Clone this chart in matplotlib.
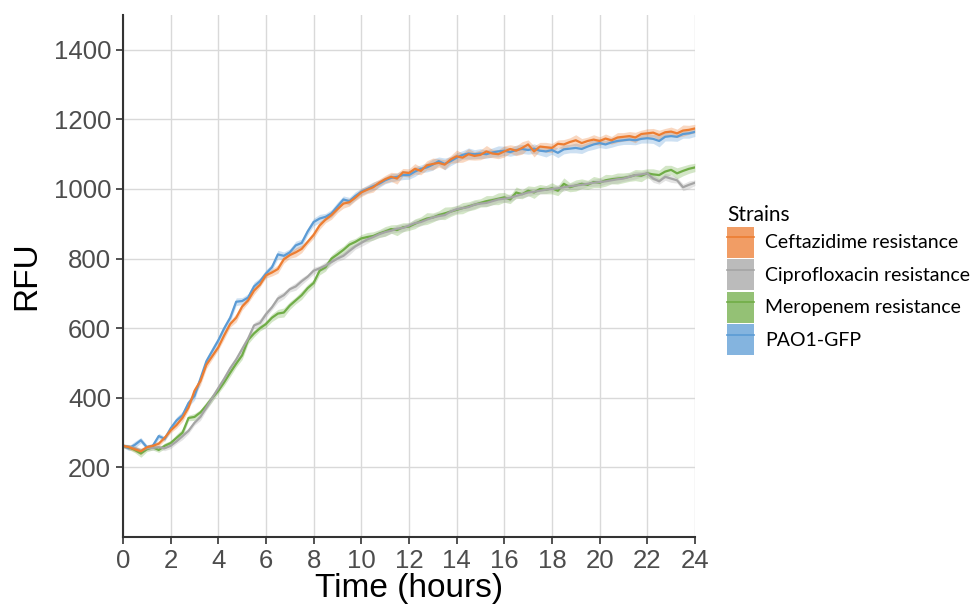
import numpy as np
import matplotlib
matplotlib.use("Agg")
import matplotlib.pyplot as plt
from matplotlib.patches import Patch
from matplotlib.lines import Line2D

# time points every 15 min
horas = np.arange(0, 24.01, 0.25)

ceftazidime = [262, 258, 252, 246, 258, 262, 268, 285,
               306, 322, 343, 372, 420, 448, 495, 520,
               545, 580, 612, 630, 662, 680, 708, 725,
               752, 760, 770, 798, 810, 818, 828, 848,
               868, 895, 912, 925, 942, 958, 962, 975,
               990, 998, 1005, 1018, 1028, 1035, 1030, 1048,
               1046, 1058, 1052, 1068, 1072, 1075, 1070, 1085,
               1094, 1090, 1100, 1095, 1098, 1108, 1102, 1100,
               1108, 1115, 1110, 1118, 1128, 1108, 1122, 1120,
               1118, 1130, 1128, 1135, 1140, 1132, 1138, 1142,
               1138, 1145, 1140, 1148, 1150, 1152, 1148, 1158,
               1160, 1162, 1155, 1163, 1165, 1160, 1168, 1170,
               1174]

ciprofloxacin = [262, 260, 255, 248, 255, 256, 258, 255,
                 262, 275, 290, 305, 328, 345, 372, 400,
                 428, 455, 485, 510, 540, 570, 608, 615,
                 640, 660, 685, 695, 712, 720, 735, 748,
                 765, 772, 780, 790, 800, 808, 822, 835,
                 845, 855, 862, 870, 876, 880, 886, 888,
                 895, 902, 905, 912, 918, 922, 925, 935,
                 942, 945, 948, 955, 958, 960, 965, 970,
                 972, 975, 980, 985, 990, 992, 995, 998,
                 1000, 1002, 1005, 1008, 1010, 1012, 1015, 1018,
                 1020, 1022, 1025, 1028, 1030, 1035, 1040, 1042,
                 1045, 1030, 1022, 1035, 1030, 1025, 1005, 1012,
                 1018]

meropenem = [262, 258, 250, 240, 252, 258, 250, 262,
             270, 285, 300, 342, 345, 358, 378, 400,
             420, 445, 472, 498, 522, 566, 585, 600,
             612, 630, 642, 645, 665, 680, 695, 715,
             730, 765, 775, 800, 812, 825, 840, 848,
             858, 862, 865, 872, 878, 885, 882, 890,
             892, 900, 908, 915, 918, 925, 930, 935,
             940, 945, 950, 955, 960, 965, 968, 972,
             976, 970, 990, 985, 995, 990, 1000, 998,
             1002, 995, 1015, 1005, 1010, 1015, 1012, 1020,
             1018, 1025, 1028, 1030, 1032, 1035, 1040, 1038,
             1045, 1042, 1040, 1050, 1055, 1045, 1052, 1058,
             1062]

pao1 = [262, 255, 265, 278, 258, 262, 290, 282,
        312, 335, 350, 385, 405, 455, 505, 535,
        565, 600, 630, 676, 678, 688, 720, 735,
        757, 775, 812, 808, 818, 838, 845, 878,
        905, 915, 920, 930, 950, 970, 965, 980,
        992, 1000, 1008, 1015, 1025, 1032, 1035, 1040,
        1040, 1050, 1058, 1062, 1070, 1080, 1072, 1080,
        1090, 1098, 1102, 1100, 1102, 1100, 1105, 1108,
        1110, 1106, 1112, 1115, 1112, 1116, 1110, 1108,
        1112, 1104, 1114, 1116, 1118, 1115, 1122, 1128,
        1132, 1128, 1134, 1138, 1140, 1142, 1140, 1144,
        1146, 1144, 1138, 1150, 1152, 1150, 1158, 1160,
        1164]

# erro padrao (faixa sombreada)
se_ceft = [5, 6, 7, 9, 6, 7, 8, 7,
           7, 9, 11, 8, 10, 12, 11, 9,
           8, 11, 9, 12, 10, 8, 11, 7,
           8, 10, 12, 11, 9, 13, 11, 8,
           10, 11, 9, 12, 10, 13, 11, 9,
           12, 11, 14, 10, 11, 13, 16, 11,
           12, 15, 11, 13, 17, 12, 14, 11,
           18, 13, 16, 12, 14, 17, 12, 13,
           16, 12, 14, 18, 13, 16, 12, 14,
           13, 11, 14, 12, 16, 13, 11, 14,
           12, 13, 11, 14, 12, 13, 15, 11,
           13, 12, 14, 11, 13, 12, 16, 13,
           12]

se_cipro = [5, 6, 8, 7, 6, 7, 6, 7,
            8, 7, 10, 8, 7, 10, 8, 11,
            8, 10, 7, 8, 11, 10, 8, 12,
            10, 8, 11, 10, 8, 11, 10, 8,
            10, 8, 11, 10, 8, 10, 11, 8,
            10, 11, 8, 10, 11, 8, 10, 11,
            8, 10, 11, 8, 10, 11, 8, 10,
            11, 8, 10, 11, 8, 10, 11, 8,
            10, 11, 8, 10, 11, 8, 10, 11,
            8, 10, 11, 8, 10, 11, 8, 10,
            11, 8, 10, 11, 8, 10, 11, 8,
            10, 11, 8, 10, 11, 8, 10, 11,
            8]

se_mero = [5, 7, 8, 11, 7, 8, 7, 8,
           7, 10, 11, 8, 10, 8, 11, 10,
           8, 10, 11, 10, 12, 11, 10, 8,
           10, 11, 12, 13, 11, 10, 12, 11,
           10, 12, 11, 10, 13, 11, 12, 10,
           11, 13, 12, 11, 14, 12, 16, 13,
           11, 14, 12, 17, 13, 12, 18, 14,
           12, 16, 13, 14, 12, 16, 13, 17,
           14, 12, 16, 13, 14, 17, 13, 12,
           16, 14, 17, 13, 16, 14, 13, 16,
           14, 17, 13, 16, 14, 13, 16, 17,
           13, 16, 14, 18, 13, 16, 14, 13,
           12]

se_pao1 = [5, 7, 10, 8, 7, 6, 8, 7,
           8, 10, 11, 10, 12, 11, 10, 12,
           11, 10, 12, 11, 10, 11, 12, 10,
           11, 10, 12, 11, 10, 12, 11, 10,
           11, 12, 10, 11, 12, 10, 11, 12,
           10, 11, 12, 11, 10, 12, 11, 13,
           12, 14, 11, 13, 16, 12, 17, 13,
           14, 12, 16, 13, 14, 12, 13, 16,
           13, 12, 14, 13, 12, 14, 13, 16,
           12, 14, 13, 12, 14, 13, 12, 14,
           13, 12, 14, 13, 12, 14, 13, 12,
           14, 13, 17, 12, 14, 13, 12, 14,
           13]

nomes = ['Ceftazidime resistance', 'Ciprofloxacin resistance',
         'Meropenem resistance', 'PAO1-GFP']
cores = ['#ED7D31', '#A5A5A5', '#70AD47', '#5B9BD5']
series = [ceftazidime, ciprofloxacin, meropenem, pao1]
erros = [se_ceft, se_cipro, se_mero, se_pao1]

plt.rcParams['font.family'] = ['Liberation Sans', 'DejaVu Sans']

fig = plt.figure(figsize=(9.76, 6.10), dpi=100)
ax = fig.add_axes([0.126, 0.1197, 0.586, 0.8557])

# desenha na ordem inversa para o laranja ficar por cima
for nome, cor, y, se in reversed(list(zip(nomes, cores, series, erros))):
    y = np.array(y)
    se = np.array(se)
    ax.fill_between(horas, y - se, y + se, color=cor, alpha=0.3, lw=0)
    ax.plot(horas, y, color=cor, lw=1.6)

ax.set_xlim(0, 24)
ax.set_ylim(0, 1500)
ax.set_xticks(range(0, 25, 2))
ax.set_yticks(range(200, 1401, 200))
ax.grid(True, color='#D9D9D9', lw=1)
ax.set_axisbelow(True)

for lado in ['top', 'right']:
    ax.spines[lado].set_visible(False)
for lado in ['left', 'bottom']:
    ax.spines[lado].set_color('#333333')
    ax.spines[lado].set_linewidth(1.5)

ax.tick_params(axis='both', colors='#333333', labelcolor='#4D4D4D',
               labelsize=18.5, length=5, width=1.2)
ax.set_xlabel('Time (hours)', fontsize=24, color='black', labelpad=0)
ax.set_ylabel('RFU', fontsize=24, color='black', labelpad=8)

# legenda
handles = [(Patch(facecolor=c, alpha=0.75, lw=0), Line2D([], [], color=c, lw=1.2))
           for c in cores]
leg = fig.legend(handles, nomes, title='Strains', loc='upper left',
                 bbox_to_anchor=(0.737, 0.676), frameon=False,
                 prop={'family': 'Lato', 'size': 14},
                 title_fontproperties={'family': 'Lato', 'size': 15},
                 handlelength=1.4, handleheight=2.1, handletextpad=0.55,
                 labelspacing=0.06, borderaxespad=0, alignment='left')

fig.savefig('out.png', dpi=100)
